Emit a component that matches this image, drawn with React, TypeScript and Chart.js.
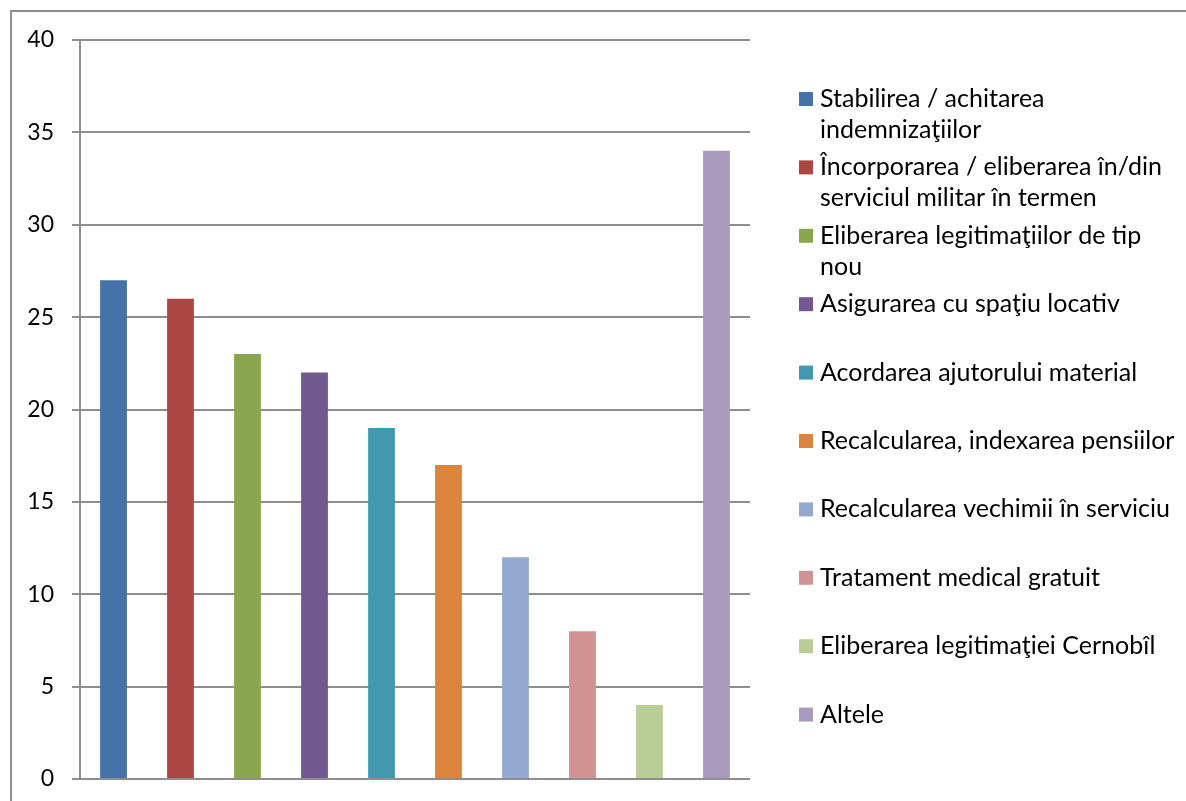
import React, { useEffect, useRef } from "react";
import { Chart, registerables } from "chart.js";

Chart.register(...registerables);

const categories: string[] = [
  "Stabilirea / achitarea\nindemnizaţiilor",
  "Încorporarea / eliberarea în/din\nserviciul militar în termen",
  "Eliberarea legitimaţiilor de tip\nnou",
  "Asigurarea cu spaţiu locativ",
  "Acordarea ajutorului material",
  "Recalcularea, indexarea pensiilor",
  "Recalcularea vechimii în serviciu",
  "Tratament medical gratuit",
  "Eliberarea legitimaţiei Cernobîl",
  "Altele",
];

const values: number[] = [27, 26, 23, 22, 19, 17, 12, 8, 4, 34];

const colors: string[] = [
  "#4572A7",
  "#AA4643",
  "#89A54E",
  "#71588F",
  "#4198AF",
  "#DB843D",
  "#93A9CF",
  "#D19392",
  "#B9CD96",
  "#A99BBD",
];

const FONT = "Lato, 'Open Sans', sans-serif";

const frameAndLegend = {
  id: "frameAndLegend",
  beforeDraw(chart: any) {
    const ctx = chart.ctx;
    ctx.save();
    ctx.fillStyle = "#ffffff";
    ctx.fillRect(0, 0, chart.width, chart.height);
    ctx.strokeStyle = "#8e8e8e";
    ctx.lineWidth = 2;
    ctx.strokeRect(11, 11, 1400, 1200);
    ctx.restore();
  },
  afterDraw(chart: any) {
    const ctx = chart.ctx;
    ctx.save();
    ctx.font = `25px ${FONT}`;
    ctx.textBaseline = "middle";
    ctx.textAlign = "left";
    categories.forEach((cat, i) => {
      const y = 99 + i * 68.4;
      ctx.fillStyle = colors[i];
      ctx.fillRect(799, y - 7, 14, 14);
      ctx.fillStyle = "#000000";
      cat.split("\n").forEach((line, j) => {
        ctx.fillText(line, 820, y + j * 31);
      });
    });
    ctx.restore();
  },
};

export default function App() {
  const ref = useRef<HTMLCanvasElement | null>(null);
  useEffect(() => {
    if (!ref.current) return;
    const chart = new Chart(ref.current, {
      type: "bar",
      data: {
        labels: categories,
        datasets: [
          {
            data: values,
            backgroundColor: colors,
            borderWidth: 0,
            barPercentage: 0.4,
            categoryPercentage: 1.0,
          },
        ],
      },
      options: {
        animation: false,
        responsive: false,
        maintainAspectRatio: false,
        layout: { padding: { left: 0, top: 40, right: 436, bottom: 22 } },
        plugins: {
          legend: { display: false },
          tooltip: { enabled: false },
        },
        scales: {
          x: { display: false },
          y: {
            min: 0,
            max: 40,
            ticks: {
              stepSize: 5,
              color: "#000000",
              padding: 18,
              font: { family: FONT, size: 23 },
            },
            grid: {
              color: "#8e8e8e",
              lineWidth: 2,
              tickLength: 8,
              drawTicks: true,
            },
            border: { display: true, color: "#8e8e8e", width: 2 },
            afterFit: (s: any) => {
              s.width = 80;
              s.paddingTop = 0;
              s.paddingBottom = 0;
            },
          },
        },
      },
      plugins: [frameAndLegend],
    });
    return () => chart.destroy();
  }, []);
  return (
    <div style={{ position: "fixed", left: 0, top: 0, width: 1186, height: 801 }}>
      <canvas ref={ref} width={1186} height={801} style={{ width: 1186, height: 801 }} />
    </div>
  );
}
